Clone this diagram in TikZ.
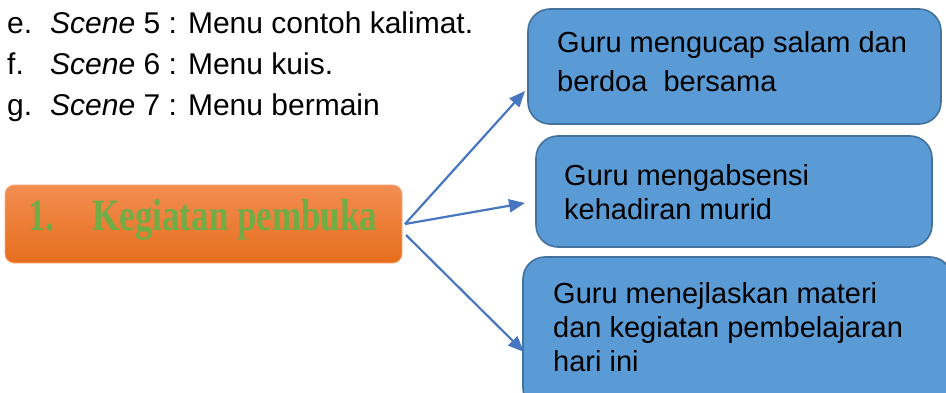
\documentclass[tikz,border=0pt]{standalone}
\usepackage{fontspec}
\setmainfont{Liberation Sans}
\newfontfamily\serifbf{Liberation Serif}
\usetikzlibrary{arrows.meta}
\definecolor{boxblue}{HTML}{5B9BD5}
\definecolor{boxedge}{HTML}{41719C}
\definecolor{arrowblue}{HTML}{4677C0}
\definecolor{orangetop}{HTML}{F28D52}
\definecolor{orangebot}{HTML}{E66E1C}
\definecolor{titlegreen}{HTML}{70AD47}
\tikzset{
  bluebox/.style={draw=boxedge, line width=1.6pt, fill=boxblue, rounded corners=22pt},
  boxtext/.style={anchor=base west, inner sep=0pt, align=left, text=black},
  listtext/.style={anchor=base west, inner sep=0pt, font=\fontsize{30}{35}\selectfont},
  conn/.style={draw=arrowblue, line width=2.2pt, -{Triangle[length=16pt,width=13pt]}}
}
\begin{document}
\begin{tikzpicture}[x=1pt,y=-1pt]
\useasboundingbox (0,0) rectangle (946,393);
\clip (0,0) rectangle (946,393);
% list
\node[listtext] (le) at (7,34) {e.};
\node[listtext] (lf) at (7,75) {f.};
\node[listtext] (lg) at (7,116) {g.};
\node[listtext] (se) at (50,34) {\itshape Scene\upshape\ 5 : Menu contoh kalimat.};
\node[listtext] (sf) at (50,75) {\itshape Scene\upshape\ 6 : Menu kuis.};
\node[listtext] (sg) at (50,116) {\itshape Scene\upshape\ 7 : Menu bermain};
% orange box
\path[top color=orangetop, bottom color=orangebot, draw=orangetop!70!white, line width=0.8pt, rounded corners=9pt]
  (5,185) rectangle (402,263);
\node (keg) [anchor=base west, inner sep=0pt, text=titlegreen] at (28,230)
  {\scalebox{1}[1.28]{\fontsize{35}{40}\serifbf\bfseries 1.\hspace{38pt}Kegiatan pembuka}};
% blue boxes
\path[bluebox] (528,9) rectangle (941,124);
\path[bluebox] (536,136) rectangle (932,247);
\path[bluebox] (523,257) rectangle (952,410);
\node (t1) [boxtext, font=\fontsize{29}{38.5}\selectfont] at (557,91.5) {Guru mengucap salam dan\\berdoa\ \ bersama};
\node (t2) [boxtext, font=\fontsize{29}{35}\selectfont] at (564,220) {Guru mengabsensi\\kehadiran murid};
\node (t3) [boxtext, font=\fontsize{29}{34}\selectfont] at (553,371) {Guru menejlaskan materi\\dan kegiatan pembelajaran\\hari ini};
% arrows
\coordinate (s1) at (405,224);
\coordinate (s3) at (406,235);
\coordinate (e1) at (525,91);
\coordinate (e2) at (525,203);
\coordinate (e3) at (524,352);
\draw[conn] (s1) -- (e1);
\draw[conn] (s1) -- (e2);
\draw[conn] (s3) -- (e3);
\end{tikzpicture}
\end{document}
